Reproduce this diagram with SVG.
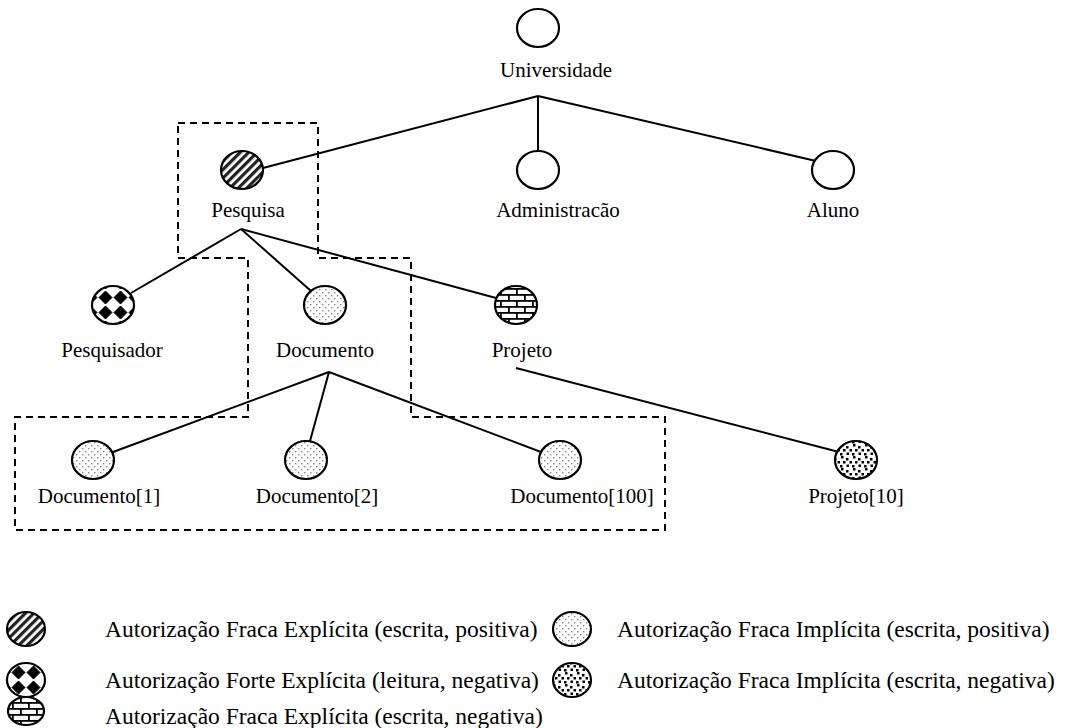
<svg xmlns="http://www.w3.org/2000/svg" width="1066" height="728" viewBox="0 0 1066 728">
  <defs>
    <!-- fill patterns used by the authorization markers -->
    <pattern id="pStripes" patternUnits="userSpaceOnUse" width="6" height="6" patternTransform="rotate(45)">
      <rect width="6" height="6" fill="#fff"/>
      <rect width="3.2" height="6" fill="#222"/>
    </pattern>
    <pattern id="pDiamonds" patternUnits="userSpaceOnUse" width="15" height="15" x="8" y="5">
      <rect width="15" height="15" fill="#fff"/>
      <polygon points="7.5,1 14,7.5 7.5,14 1,7.5" fill="#000" stroke="#000" stroke-width="1" stroke-linejoin="round"/>
    </pattern>
    <pattern id="pDiamondsKey" href="#pDiamonds" x="11" y="5"/>
    <pattern id="pDots" patternUnits="userSpaceOnUse" width="6" height="6">
      <rect width="6" height="6" fill="#fff"/>
      <rect x="1" y="1" width="1.4" height="1.4" fill="#888"/>
      <rect x="4" y="4" width="1.4" height="1.4" fill="#888"/>
    </pattern>
    <pattern id="pBricks" patternUnits="userSpaceOnUse" width="16" height="12">
      <rect width="16" height="12" fill="#fff"/>
      <rect x="0" y="0" width="16" height="1.8" fill="#000"/>
      <rect x="0" y="6" width="16" height="1.8" fill="#000"/>
      <rect x="4" y="0" width="1.8" height="6" fill="#000"/>
      <rect x="12" y="6" width="1.8" height="6" fill="#000"/>
    </pattern>
    <pattern id="pSpeckle" patternUnits="userSpaceOnUse" width="12" height="12">
      <rect width="12" height="12" fill="#fff"/>
      <rect x="1" y="0" width="2.5" height="2.5" fill="#000"/>
      <rect x="6" y="2" width="2.5" height="2.5" fill="#000"/>
      <rect x="9.5" y="5" width="2.5" height="2.5" fill="#000"/>
      <rect x="3" y="5" width="2.5" height="2.5" fill="#000"/>
      <rect x="0" y="9" width="2.5" height="2.5" fill="#000"/>
      <rect x="6.5" y="8.5" width="2.5" height="2.5" fill="#000"/>
    </pattern>
  </defs>
  <style>
    .node { stroke: #000; stroke-width: 2.2; }
    .plain { fill: #fff; }
    .lbl { font-family: "Liberation Serif", "Times New Roman", serif; font-size: 21px; fill: #000; }
    .key { font-family: "Liberation Serif", "Times New Roman", serif; font-size: 23.5px; fill: #000; }
    .edge { stroke: #000; stroke-width: 2; fill: none; }
    .scope { stroke: #000; stroke-width: 2; fill: none; stroke-dasharray: 7 5; }
  </style>
  <rect width="1066" height="728" fill="#fff"/>

  <!-- scope of the Pesquisa / Documento subtree -->
  <polygon class="scope" points="178,123 318,123 318,258 411,258 411,417 665,417 665,530 15,530 15,417 248,417 248,258 178,258"/>

  <g id="connectors">
    <line class="edge" x1="538" y1="96" x2="263" y2="168"/>
    <line class="edge" x1="538" y1="96" x2="538" y2="151"/>
    <line class="edge" x1="538" y1="96" x2="816" y2="161"/>
    <line class="edge" x1="241" y1="229" x2="131" y2="293"/>
    <line class="edge" x1="241" y1="229" x2="311" y2="291"/>
    <line class="edge" x1="241" y1="229" x2="496" y2="298"/>
    <line class="edge" x1="329" y1="372" x2="113" y2="452"/>
    <line class="edge" x1="329" y1="372" x2="310" y2="441"/>
    <line class="edge" x1="329" y1="372" x2="541" y2="452"/>
    <line class="edge" x1="516" y1="368" x2="839" y2="452"/>
  </g>

  <g id="universidade">
    <ellipse class="node plain" cx="538" cy="28" rx="21" ry="19"/>
    <text class="lbl" x="556" y="77" text-anchor="middle">Universidade</text>
  </g>
  <g id="pesquisa">
    <ellipse class="node" fill="url(#pStripes)" cx="242" cy="170" rx="21" ry="19"/>
    <text class="lbl" x="248" y="217" text-anchor="middle">Pesquisa</text>
  </g>
  <g id="administracao">
    <ellipse class="node plain" cx="538" cy="170" rx="21" ry="19"/>
    <text class="lbl" x="558" y="217" text-anchor="middle">Administracão</text>
  </g>
  <g id="aluno">
    <ellipse class="node plain" cx="833" cy="170" rx="21" ry="19"/>
    <text class="lbl" x="833" y="217" text-anchor="middle">Aluno</text>
  </g>
  <g id="pesquisador">
    <ellipse class="node" fill="url(#pDiamonds)" cx="113" cy="305" rx="21" ry="19"/>
    <text class="lbl" x="112" y="357" text-anchor="middle">Pesquisador</text>
  </g>
  <g id="documento">
    <ellipse class="node" fill="url(#pDots)" cx="325" cy="305" rx="21" ry="19"/>
    <text class="lbl" x="325" y="357" text-anchor="middle">Documento</text>
  </g>
  <g id="projeto">
    <ellipse class="node" fill="url(#pBricks)" cx="516" cy="305" rx="21" ry="19"/>
    <text class="lbl" x="522" y="357" text-anchor="middle">Projeto</text>
  </g>
  <g id="documento-1">
    <ellipse class="node" fill="url(#pDots)" cx="93" cy="460" rx="21" ry="19"/>
    <text class="lbl" x="99" y="503" text-anchor="middle">Documento[1]</text>
  </g>
  <g id="documento-2">
    <ellipse class="node" fill="url(#pDots)" cx="306" cy="460" rx="21" ry="19"/>
    <text class="lbl" x="317" y="503" text-anchor="middle">Documento[2]</text>
  </g>
  <g id="documento-100">
    <ellipse class="node" fill="url(#pDots)" cx="560" cy="460" rx="21" ry="19"/>
    <text class="lbl" x="582" y="503" text-anchor="middle">Documento[100]</text>
  </g>
  <g id="projeto-10">
    <ellipse class="node" fill="url(#pSpeckle)" cx="856" cy="460" rx="21" ry="19"/>
    <text class="lbl" x="856" y="503" text-anchor="middle">Projeto[10]</text>
  </g>

  <!-- legend -->
  <g id="legend">
    <ellipse class="node" fill="url(#pStripes)" cx="26" cy="629" rx="19" ry="17"/>
    <text class="key" x="105" y="637">Autorização Fraca Explícita (escrita, positiva)</text>
    <ellipse class="node" fill="url(#pDiamondsKey)" cx="26" cy="680" rx="19" ry="17"/>
    <text class="key" x="105" y="688">Autorização Forte Explícita (leitura, negativa)</text>
    <ellipse class="node" fill="url(#pBricks)" cx="26" cy="711" rx="18" ry="14"/>
    <text class="key" x="105" y="724">Autorização Fraca Explícita (escrita, negativa)</text>
    <ellipse class="node" fill="url(#pDots)" cx="572" cy="629" rx="19" ry="17"/>
    <text class="key" x="617" y="637">Autorização Fraca Implícita (escrita, positiva)</text>
    <ellipse class="node" fill="url(#pSpeckle)" cx="572" cy="680" rx="19" ry="17"/>
    <text class="key" x="617" y="688">Autorização Fraca Implícita (escrita, negativa)</text>
  </g>
</svg>
